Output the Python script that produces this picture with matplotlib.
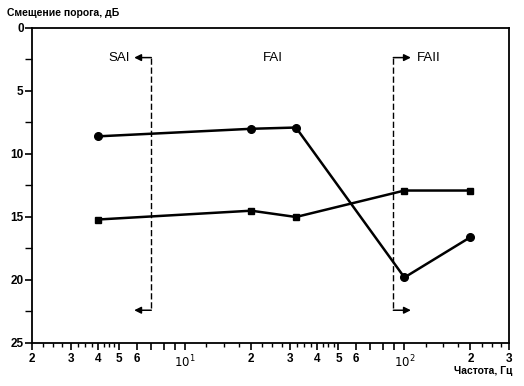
import numpy as np
import matplotlib
matplotlib.use("Agg")
import matplotlib.pyplot as plt
from matplotlib.ticker import FixedLocator, NullFormatter

plt.rcParams['font.family'] = ['Liberation Sans', 'DejaVu Sans']

# data
freq = [4, 20, 32, 100, 200]
shift_circle = [8.6, 8.0, 7.9, 19.8, 16.6]
shift_square = [15.2, 14.5, 15.0, 12.9, 12.9]

# receptor zone borders (Hz) and arrow tips
sai_x, sai_tip = 7.0, 5.85
faii_x, faii_tip = 89.0, 107.0
border_top, border_bot = 2.35, 22.4

major = [2, 3, 4, 5, 6, 7, 8, 9, 10, 20, 30, 40, 50, 60, 70, 80, 90, 100, 200, 300]
major_lbl = {2: '2', 3: '3', 4: '4', 5: '5', 6: '6', 10: '$10^1$',
             20: '2', 30: '3', 40: '4', 50: '5', 60: '6', 100: '$10^2$',
             200: '2', 300: '3'}
minor = [2.25, 2.5, 2.75, 3.25, 3.5, 3.75, 4.25, 4.5, 4.75,
         12.5, 15, 17.5, 22.5, 25, 27.5, 32.5, 35, 37.5, 42.5, 45, 47.5,
         125, 150, 175, 225, 250, 275]

fig = plt.figure(figsize=(5.24, 3.86), dpi=100)
ax = fig.add_axes([0.0611, 0.1114, 0.9103, 0.8161])

ax.plot(freq, shift_circle, color='black', lw=1.8, marker='o', ms=5.5)
ax.plot(freq, shift_square, color='black', lw=1.8, marker='s', ms=5)

for x0, tip in [(sai_x, sai_tip), (faii_x, faii_tip)]:
    ax.plot([x0, x0], [border_top, border_bot], color='black', lw=1,
            dashes=(4.5, 2))
    for yy in [border_top, border_bot]:
        ax.annotate('', xy=(tip, yy), xytext=(x0, yy),
                    arrowprops=dict(arrowstyle='-|>', color='black', lw=1.1,
                                    mutation_scale=10, shrinkA=0, shrinkB=0))

ax.text(5.6, border_top, 'SAI', ha='right', va='center', fontsize=9.5, fontweight='medium')
ax.text(25, border_top, 'FAI', ha='center', va='center', fontsize=9.5, fontweight='medium')
ax.text(114, border_top, 'FAII', ha='left', va='center', fontsize=9.5, fontweight='medium')

ax.set_xscale('log')
ax.set_xlim(2, 300)
ax.set_ylim(25, 0)

ax.xaxis.set_major_locator(FixedLocator(major))
ax.xaxis.set_major_formatter(plt.FuncFormatter(lambda v, p: major_lbl.get(int(round(v)), '')))
ax.xaxis.set_minor_locator(FixedLocator(minor))
ax.xaxis.set_minor_formatter(NullFormatter())
ax.set_yticks([0, 5, 10, 15, 20, 25])
ax.set_yticks([2.5, 7.5, 12.5, 17.5, 22.5], minor=True)

ax.tick_params(axis='both', which='major', length=5, width=1.2, labelsize=8.5)
ax.tick_params(axis='x', which='major', pad=2.5)
ax.tick_params(axis='y', which='major', pad=1)
ax.tick_params(axis='x', which='minor', length=3, width=1)
ax.tick_params(axis='y', which='minor', length=5, width=1)
for lbl in ax.get_xticklabels() + ax.get_yticklabels():
    lbl.set_fontweight('bold')
for s in ax.spines.values():
    s.set_linewidth(1.3)

fig.text(0.013, 0.967, 'Смещение порога, дБ', fontsize=7.5, fontweight='bold',
         ha='left', va='center')
fig.text(0.977, 0.039, 'Частота, Гц', fontsize=7.5, fontweight='bold',
         ha='right', va='center')

fig.savefig('out.png', dpi=100)
